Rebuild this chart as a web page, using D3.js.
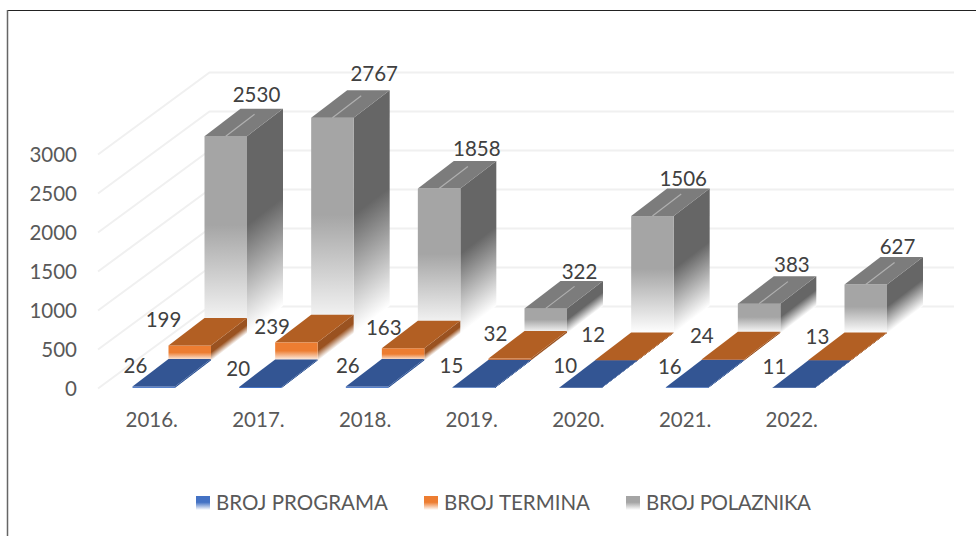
<!DOCTYPE html>
<html lang="hr">
<head>
<meta charset="UTF-8">
<title>Broj programa, termina i polaznika</title>
<script src="https://d3js.org/d3.v7.min.js"></script>
<style>
    * { margin: 0; padding: 0; }
    body { background: #fff; overflow: hidden; }
    svg { display: block; font-family: Lato, "Open Sans", sans-serif; }
</style>
</head>
<body>
<svg id="chart" width="976" height="536"></svg>
<script>
const years = ['2016.', '2017.', '2018.', '2019.', '2020.', '2021.', '2022.'];
const seriesNames = ['BROJ PROGRAMA', 'BROJ TERMINA', 'BROJ POLAZNIKA'];
const programa = [26, 20, 26, 15, 10, 16, 11];
const termini = [199, 239, 163, 32, 12, 24, 13];
const polaznici = [2530, 2767, 1858, 322, 1506, 383, 627];
const yTicks = [0, 500, 1000, 1500, 2000, 2500, 3000];

// hand placed label shifts from the default spot, one per year
const labelShiftX = [
    [3, -1, 2, -1, 6, 4, 2],
    [-5, -3, 2, 7, -2, 0, 9],
    [52, 63, 59, 55, 52, 54, 53]
];
const labelShiftY = [
    [0, 3, 0, 0, 0, 1, 1],
    [-18.5, -11.5, -10.5, -4.5, -3.5, -2.5, -1.5],
    [-14, -16, -12, -9, -10, -11, -10]
];

const floorY = 388.5;
const stepX = 36;   // one row back in the fake 3d
const stepY = 27.5;
const barW = 42.5;
const skew = Math.atan(stepY / stepX) * 180 / Math.PI;

const svg = d3.select('#chart');

const x = d3.scaleBand().domain(years).range([132.5, 815]).paddingInner(0.6016).paddingOuter(0);
const y = d3.scaleLinear().domain([0, 3000]).range([0, 234]);

const colors = [
    { front: '#4472c4', side: '#2f5597', top: '#335593' },
    { front: '#ed7d31', side: '#9a5220', top: '#b25f23' },
    { front: '#a5a5a5', side: '#666666', top: '#7c7c7c' }
];

// fade to white on the lower half of every face
const defs = svg.append('defs');
function fade(id, color) {
    const g = defs.append('linearGradient').attr('id', id)
        .attr('x1', 0).attr('y1', 0).attr('x2', 0).attr('y2', 1);
    g.append('stop').attr('offset', '45%').attr('stop-color', color);
    g.append('stop').attr('offset', '100%').attr('stop-color', '#fff');
}
colors.forEach((c, i) => {
    fade('front' + i, c.front);
    fade('side' + i, c.side);
});

// frame of the pasted picture
svg.append('line').attr('x1', 7).attr('x2', 976).attr('y1', 10.5).attr('y2', 10.5)
    .attr('stroke', '#222').attr('stroke-width', 1);
svg.append('line').attr('x1', 7.5).attr('x2', 7.5).attr('y1', 10).attr('y2', 536)
    .attr('stroke', '#666').attr('stroke-width', 1.5);

// walls
const wallX = 111.5, wallY = 82;
const grid = svg.append('g').attr('fill', 'none').attr('stroke', '#f0f0f0').attr('stroke-width', 2);
grid.selectAll('path')
    .data(yTicks)
    .enter()
    .append('path')
    .attr('d', d => {
        const yy = floorY - y(d);
        return d3.line()([[98, yy], [98 + wallX, yy - wallY], [954, yy - wallY]]);
    });

// bars, back row first
[polaznici, termini, programa].forEach((values, r) => {
    const s = 2 - r;
    const g = svg.append('g').attr('class', 'series' + s);
    const rows = values.map((v, i) => ({
        v: v,
        left: x(years[i]) + s * stepX,
        base: floorY - s * stepY,
        h: y(v)
    }));

    g.selectAll('.side').data(rows).enter().append('rect')
        .attr('class', 'side')
        .attr('width', stepX)
        .attr('height', d => d.h)
        .attr('transform', d => `translate(${d.left + barW},${d.base - d.h}) skewY(${-skew})`)
        .attr('fill', `url(#side${s})`);

    g.selectAll('.front').data(rows).enter().append('rect')
        .attr('class', 'front')
        .attr('x', d => d.left)
        .attr('y', d => d.base - d.h)
        .attr('width', barW)
        .attr('height', d => d.h)
        .attr('fill', `url(#front${s})`);

    g.selectAll('.top').data(rows).enter().append('path')
        .attr('class', 'top')
        .attr('fill', colors[s].top)
        .attr('d', d => {
            const t = d.base - d.h;
            return d3.line()([[d.left, t], [d.left + barW, t], [d.left + barW + stepX, t - stepY], [d.left + stepX, t - stepY]]) + 'Z';
        });

    // the light streak on the grey lids
    if (s === 2) {
        g.selectAll('.streak').data(rows).enter().append('line')
            .attr('class', 'streak')
            .attr('x1', d => d.left + barW / 2)
            .attr('y1', d => d.base - d.h)
            .attr('x2', d => d.left + barW / 2 + stepX * 0.8)
            .attr('y2', d => d.base - d.h - stepY * 0.8)
            .attr('stroke', '#b0b0b0').attr('stroke-width', 1.2);
    }
});

// data labels
[programa, termini, polaznici].forEach((values, s) => {
    svg.append('g')
        .selectAll('text')
        .data(values)
        .enter()
        .append('text')
        .attr('x', (d, i) => x(years[i]) + s * stepX + labelShiftX[s][i])
        .attr('y', (d, i) => {
            if (s === 2) return floorY - s * stepY - y(d) - stepY + labelShiftY[s][i];
            return floorY - s * stepY - 22.5 + labelShiftY[s][i];
        })
        .attr('dy', '0.35em')
        .attr('text-anchor', 'middle')
        .attr('fill', '#404040')
        .style('font-size', '20.5px')
        .text(d => d);
});

// axes
const yAxis = d3.axisLeft(d3.scaleLinear().domain([0, 3000]).range([floorY, floorY - 234]))
    .tickValues(yTicks).tickSize(0).tickPadding(0).tickFormat(d3.format('d'));
const yG = svg.append('g').attr('transform', 'translate(77,0.5)').call(yAxis);

const xAxis = d3.axisBottom(x).tickSize(0).tickPadding(0);
const xG = svg.append('g').attr('transform', 'translate(-2,412)').call(xAxis);

[yG, xG].forEach(a => {
    a.select('.domain').remove();
    a.selectAll('text')
        .attr('fill', '#595959')
        .style('font-family', 'Lato, "Open Sans", sans-serif')
        .style('font-size', '20.5px');
});

// legend
const legendX = [196, 424, 626];
const legendTextW = [172, 146, 165];
const legend = svg.append('g')
    .selectAll('g')
    .data(seriesNames)
    .enter()
    .append('g')
    .attr('transform', (d, i) => `translate(${legendX[i]},496)`);
legend.append('rect')
    .attr('width', 14).attr('height', 14)
    .attr('fill', (d, i) => `url(#front${i})`);
legend.append('text')
    .attr('x', 20).attr('y', 7)
    .attr('dy', '0.35em')
    .attr('textLength', (d, i) => legendTextW[i])
    .attr('fill', '#595959')
    .style('font-size', '20.5px')
    .text(d => d);
</script>
</body>
</html>
